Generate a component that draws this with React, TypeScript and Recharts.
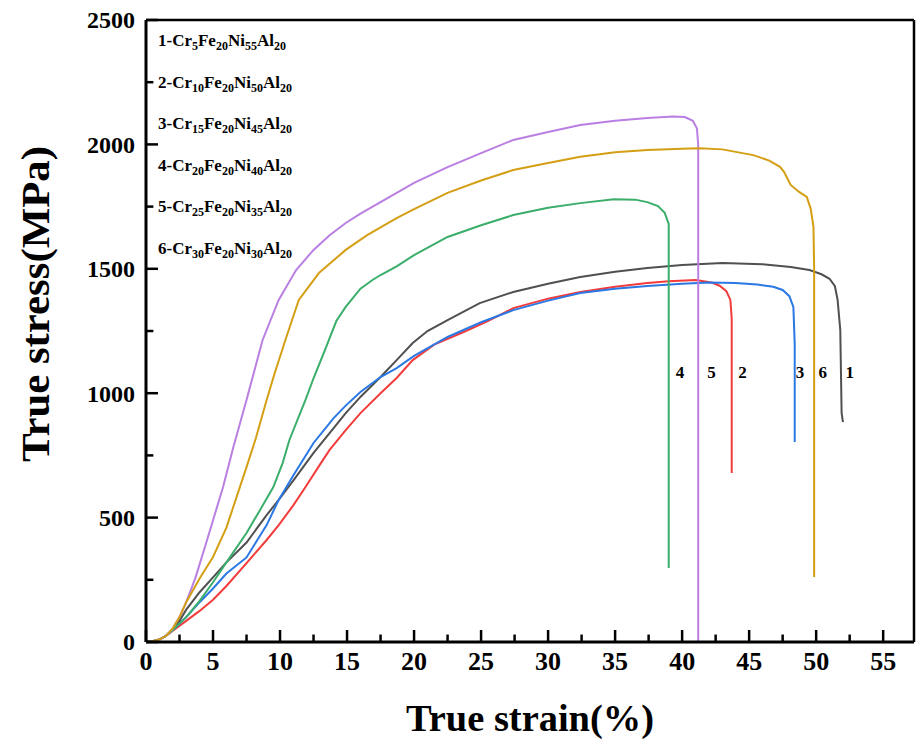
import React from 'react';
import { LineChart, Line, XAxis, YAxis, ReferenceLine, ReferenceDot, Label } from 'recharts';

type Pt = { x: number; y: number };
const pts = (arr: number[][]): Pt[] => arr.map(([x, y]) => ({ x, y }));

// 1-Cr5Fe20Ni55Al20
const alloy1 = pts([
  [0, 0], [0.5, 3], [1, 10], [1.5, 25], [2, 50], [2.5, 85], [3, 130], [4, 200], [5, 260], [6, 320],
  [7.5, 400], [9, 510], [9.9, 571], [11, 650], [12.5, 760], [14, 860], [14.9, 920], [16, 985],
  [17.5, 1065], [18.7, 1133], [19.9, 1202], [21, 1250], [22.5, 1294], [24.9, 1362], [27.4, 1407],
  [30, 1440], [32.4, 1467], [35, 1488], [37.4, 1503], [40, 1515], [43, 1523], [46, 1518], [48.1, 1507],
  [49.5, 1495], [50.4, 1478], [51, 1460], [51.4, 1430], [51.6, 1375], [51.8, 1254], [51.9, 920], [52.0, 884],
]);
// 2-Cr10Fe20Ni50Al20
const alloy2 = pts([
  [0, 0], [0.5, 3], [1, 10], [1.5, 25], [2, 45], [3, 85], [4, 125], [5, 170], [6, 225], [7.5, 317],
  [9, 410], [9.9, 470], [11, 550], [11.9, 623], [13, 715], [13.7, 772], [14.9, 852], [16, 920],
  [17.5, 1000], [18.7, 1061], [19.9, 1133], [21.5, 1195], [23.7, 1246], [25.5, 1290], [27.4, 1342],
  [30, 1380], [32.4, 1407], [35, 1428], [37.4, 1443], [39, 1450], [41, 1455], [42.2, 1445],
  [42.8, 1432], [43.3, 1410], [43.6, 1375], [43.7, 1300], [43.7, 679],
]);
// 3-Cr15Fe20Ni45Al20
const alloy3 = pts([
  [0, 0], [0.5, 3], [1, 10], [1.5, 25], [2, 48], [3, 100], [4, 160], [5, 215], [6, 275], [7.5, 340],
  [9, 470], [9.9, 571], [11, 670], [12.5, 800], [14, 900], [14.9, 950], [16, 1005], [17.5, 1065],
  [18.7, 1101], [20, 1150], [22.5, 1226], [25, 1285], [27.4, 1334], [30, 1372], [32.4, 1403],
  [35, 1420], [37.4, 1431], [40, 1440], [42, 1445], [44, 1443], [45.6, 1437], [46.8, 1428],
  [47.5, 1415], [48.0, 1390], [48.3, 1347], [48.4, 1200], [48.4, 804],
]);
// 4-Cr20Fe20Ni40Al20
const alloy4 = pts([
  [0, 0], [0.5, 3], [1, 10], [1.5, 25], [2, 48], [3, 100], [4, 165], [5, 240], [6, 320], [7.5, 438],
  [8.5, 530], [9.5, 623], [10.2, 720], [10.7, 812], [11.9, 973], [12.5, 1060], [13.4, 1180],
  [14.2, 1290], [14.9, 1347], [16, 1420], [16.9, 1455], [17.5, 1475], [18.7, 1510], [20, 1555],
  [22.5, 1628], [25, 1675], [27.4, 1716], [30, 1745], [32.4, 1764], [34.9, 1780], [36.5, 1778],
  [37.4, 1768], [38.2, 1752], [38.7, 1725], [39.0, 1680], [39.0, 297],
]);
// 5-Cr25Fe20Ni35Al20
const alloy5 = pts([
  [0, 0], [0.5, 3], [1, 10], [1.5, 25], [2, 55], [2.5, 100], [3, 160], [3.7, 260], [4.5, 400],
  [5.75, 623], [6.5, 780], [7.5, 973], [8.7, 1214], [9.9, 1375], [11.2, 1495], [12.5, 1576],
  [13.7, 1635], [14.9, 1684], [16, 1722], [17.5, 1768], [20, 1845], [22.5, 1909], [25, 1965],
  [27.4, 2018], [30, 2050], [32.4, 2078], [35, 2095], [37.4, 2106], [39.3, 2112], [40.2, 2110],
  [40.8, 2095], [41.1, 2065], [41.2, 2000], [41.2, 0],
]);
// 6-Cr30Fe20Ni30Al20
const alloy6 = pts([
  [0, 0], [0.5, 3], [1, 10], [1.5, 25], [2, 55], [2.5, 100], [3, 160], [4, 255], [5, 342], [6, 460],
  [7.5, 703], [8.2, 820], [9.0, 973], [9.6, 1080], [10.4, 1214], [11.4, 1375], [12.9, 1483],
  [14.9, 1576], [16.5, 1635], [18.7, 1704], [20, 1740], [22.5, 1805], [25, 1855], [27.4, 1897],
  [30, 1925], [32.4, 1950], [35, 1968], [37.4, 1977], [40, 1983], [41.3, 1985], [43, 1980],
  [45.3, 1957], [46.5, 1935], [47.3, 1910], [47.6, 1890], [48.1, 1837], [48.7, 1810], [49.3, 1789],
  [49.6, 1740], [49.8, 1668], [49.85, 1500], [49.85, 261],
]);

const SERIES = [alloy1, alloy2, alloy3, alloy4, alloy5, alloy6];
const COLORS = ['#505050', '#f23c3c', '#2a78e4', '#3aae6a', '#b97fe2', '#d49f14'];
const CR = [5, 10, 15, 20, 25, 30];
const NI = [55, 50, 45, 40, 35, 30];

const X_TICKS = [0, 5, 10, 15, 20, 25, 30, 35, 40, 45, 50, 55];
const X_MINOR = [2.5, 7.5, 12.5, 17.5, 22.5, 27.5, 32.5, 37.5, 42.5, 47.5, 52.5];
const Y_TICKS = [0, 500, 1000, 1500, 2000, 2500];
const Y_MINOR = [250, 750, 1250, 1750, 2250];
const X_MAX = 57.3;
const Y_MAX = 2500;

// minor tick lengths in data units (about 7px on screen)
const X_MINOR_LEN = 30;
const Y_MINOR_LEN = 0.55;

// curve number labels next to the fracture drops
const TAG_TEXT = ['4', '5', '2', '3', '6', '1'];
const TAG_X = [39.85, 42.2, 44.5, 48.8, 50.5, 52.5];
const TAG_Y = 1085;

const FONT = "'Liberation Serif', 'Times New Roman', serif";
const TICK_COLOR = '#000';

const XTick = (props: any) => {
  const { x, y, payload } = props;
  return (
    <text x={x} y={y + 10} dy="0.71em" textAnchor="middle" fontSize={26} fontWeight="bold" fill="#000" fontFamily={FONT}>
      {payload.value}
    </text>
  );
};

const YTick = (props: any) => {
  const { x, y, payload } = props;
  return (
    <text x={x - 11} y={y} dy="0.35em" textAnchor="end" fontSize={24} fontWeight="bold" fill="#000" fontFamily={FONT}>
      {payload.value}
    </text>
  );
};

const sub = { fontSize: 12, verticalAlign: -4 } as const;

export default function App() {
  return (
    <div style={{ position: 'absolute', left: 0, top: 0, width: 917, height: 741, background: '#fff', fontFamily: FONT }}>
      <LineChart width={917} height={741} margin={{ top: 20, right: 3, bottom: 0, left: 0 }}>
        <XAxis
          type="number"
          dataKey="x"
          domain={[0, X_MAX]}
          ticks={X_TICKS}
          interval={0}
          tickSize={-12}
          tickMargin={12}
          tick={<XTick />}
          tickLine={{ stroke: TICK_COLOR, strokeWidth: 2.5 }}
          axisLine={{ stroke: '#000', strokeWidth: 3 }}
          height={99}
        >
          <Label
            content={({ viewBox }: any) => (
              <text
                x={viewBox.x + viewBox.width / 2}
                y={viewBox.y + 76}
                textAnchor="middle"
                dominantBaseline="central"
                fontSize={37}
                fontWeight="bold"
                fill="#000"
                fontFamily={FONT}
                textLength={248}
                lengthAdjust="spacingAndGlyphs"
              >
                True strain(%)
              </text>
            )}
          />
        </XAxis>
        <YAxis
          type="number"
          domain={[0, Y_MAX]}
          ticks={Y_TICKS}
          interval={0}
          tickSize={-12}
          tickMargin={12}
          tick={<YTick />}
          tickLine={{ stroke: TICK_COLOR, strokeWidth: 2.5 }}
          axisLine={{ stroke: '#000', strokeWidth: 3 }}
          width={146}
        >
          <Label
            content={({ viewBox }: any) => {
              const cx = 35;
              const cy = viewBox.y + viewBox.height / 2 - 27;
              return (
                <text
                  x={cx}
                  y={cy}
                  transform={`rotate(-90 ${cx} ${cy})`}
                  textAnchor="middle"
                  dominantBaseline="central"
                  fontSize={39}
                  fontWeight="bold"
                  fill="#000"
                  fontFamily={FONT}
                  textLength={316}
                  lengthAdjust="spacingAndGlyphs"
                >
                  True stress(MPa)
                </text>
              );
            }}
          />
        </YAxis>
        <ReferenceLine y={Y_MAX} stroke="#000" strokeWidth={2.5} />
        <ReferenceLine x={X_MAX} stroke="#000" strokeWidth={2.5} />
        {X_MINOR.map((t) => (
          <ReferenceLine
            key={`xt${t}`}
            segment={[{ x: t, y: 0 }, { x: t, y: X_MINOR_LEN }]}
            stroke={TICK_COLOR}
            strokeWidth={2.5}
            ifOverflow="visible"
          />
        ))}
        {Y_MINOR.map((t) => (
          <ReferenceLine
            key={`yt${t}`}
            segment={[{ x: 0, y: t }, { x: Y_MINOR_LEN, y: t }]}
            stroke={TICK_COLOR}
            strokeWidth={2.5}
            ifOverflow="visible"
          />
        ))}
        {SERIES.map((data, i) => (
          <Line
            key={i}
            data={data}
            dataKey="y"
            type="linear"
            stroke={COLORS[i]}
            strokeWidth={2}
            dot={false}
            activeDot={false}
            isAnimationActive={false}
          />
        ))}
        {TAG_TEXT.map((t, i) => (
          <ReferenceDot
            key={t}
            x={TAG_X[i]}
            y={TAG_Y}
            r={0}
            label={{ value: t, position: 'center', fontSize: 17, fontWeight: 'bold', fill: '#000', fontFamily: FONT }}
          />
        ))}
      </LineChart>
      {CR.map((cr, i) => (
        <div
          key={cr}
          style={{
            position: 'absolute',
            left: 158,
            top: 31 + i * 41.6,
            fontSize: 17,
            fontWeight: 'bold',
            color: '#000',
            lineHeight: '20px',
            whiteSpace: 'nowrap',
          }}
        >
          {i + 1}-Cr<sub style={sub}>{cr}</sub>Fe<sub style={sub}>20</sub>Ni<sub style={sub}>{NI[i]}</sub>Al
          <sub style={sub}>20</sub>
        </div>
      ))}
    </div>
  );
}
